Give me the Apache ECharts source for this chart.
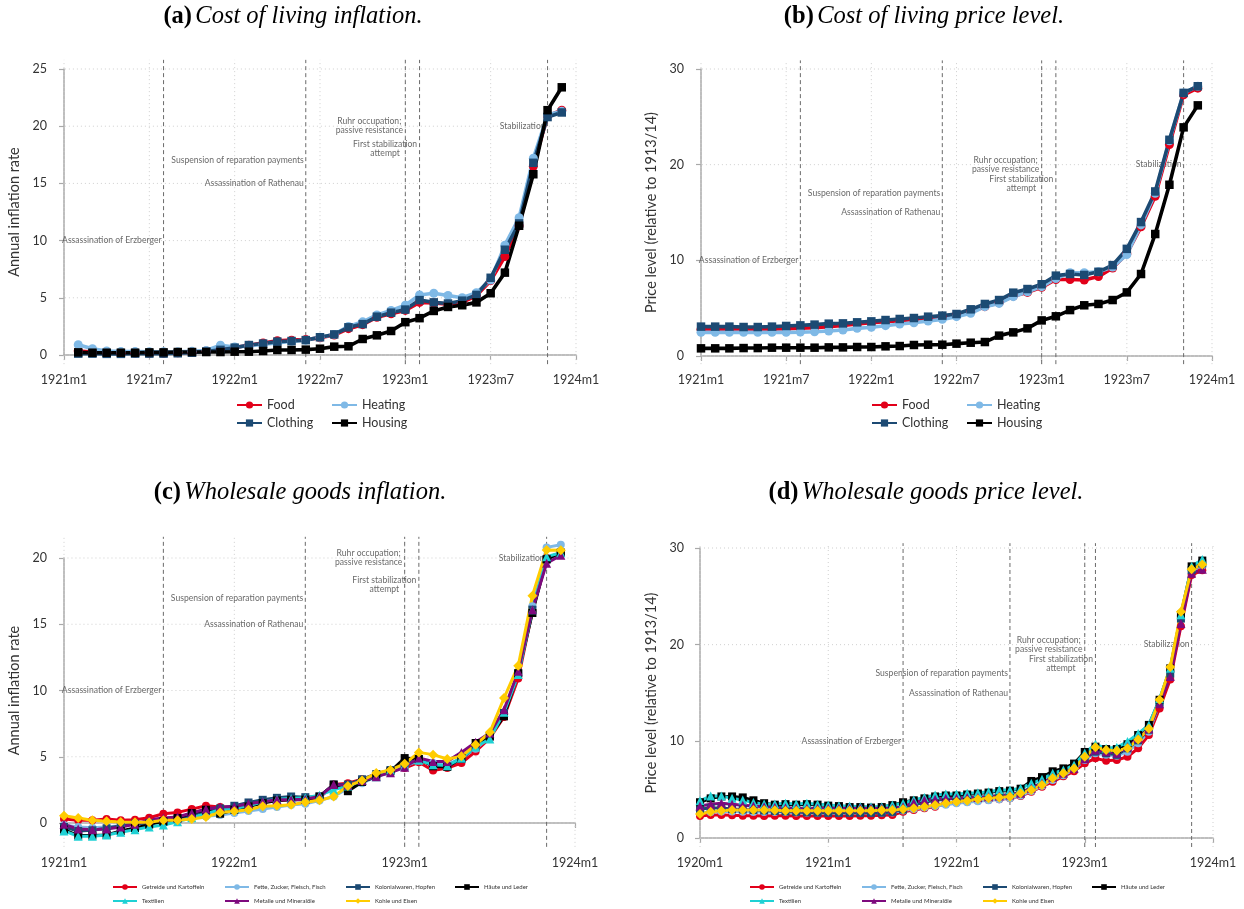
<!DOCTYPE html>
<html><head><meta charset="utf-8">
<script src="https://cdn.jsdelivr.net/npm/echarts@6/dist/echarts.min.js"></script>
<style>html,body{margin:0;padding:0;background:#fff}#c{width:1244px;height:909px}</style>
</head><body><div id="c"></div>
<script>
// ---------------- DATA ----------------
// (a) Cost of living inflation (annual rate), monthly from 1921m2
const colInflStart = '1921m2';
const colInflFood     = [0.35,0.25,0.2,0.15,0.15,0.15,0.15,0.2,0.25,0.35,0.5,0.65,0.85,1.05,1.25,1.3,1.35,1.5,1.75,2.3,2.65,3.3,3.6,3.9,4.6,4.55,4.45,4.6,5.2,6.5,8.6,11.3,16.5,20.9,21.4];
const colInflClothing = [0.12,0.12,0.1,0.1,0.12,0.12,0.12,0.15,0.2,0.3,0.45,0.64,0.87,1.0,1.17,1.22,1.3,1.55,1.8,2.42,2.7,3.35,3.7,3.97,4.8,4.6,4.5,4.75,5.25,6.75,9.2,11.5,16.8,20.8,21.2];
const colInflHeating  = [0.9,0.55,0.35,0.3,0.3,0.28,0.28,0.28,0.32,0.4,0.85,0.7,0.8,0.95,1.05,1.2,1.3,1.55,1.8,2.5,2.9,3.5,3.9,4.35,5.25,5.4,5.2,5.0,5.45,6.55,9.6,12.0,17.2,21.0,21.3];
const colInflHousing  = [0.23,0.2,0.2,0.2,0.2,0.23,0.23,0.26,0.26,0.26,0.26,0.29,0.29,0.35,0.44,0.44,0.47,0.55,0.73,0.76,1.4,1.72,2.1,2.87,3.22,3.85,4.2,4.35,4.6,5.4,7.2,11.3,15.8,21.4,23.4];

// (b) Cost of living price level (relative to 1913/14), monthly from 1921m1
const colLevelStart = '1921m1';
const colLevelFood     = [2.79,2.79,2.79,2.79,2.79,2.79,2.86,2.9,2.95,3.07,3.2,3.34,3.48,3.59,3.69,3.83,3.97,4.11,4.29,4.63,5.16,5.57,6.27,6.65,7.18,8.0,8.0,7.95,8.3,9.2,10.7,13.5,16.7,22.1,27.3,28.0];
const colLevelClothing = [3.07,3.07,3.07,3.03,3.03,3.07,3.14,3.2,3.28,3.38,3.41,3.52,3.62,3.76,3.87,3.97,4.11,4.22,4.39,4.88,5.44,5.85,6.62,7.0,7.5,8.4,8.57,8.47,8.8,9.5,11.2,14.0,17.2,22.6,27.5,28.2];
const colLevelHeating  = [2.47,2.47,2.47,2.47,2.47,2.47,2.47,2.5,2.54,2.61,2.72,2.89,3.0,3.17,3.34,3.48,3.66,3.83,4.11,4.46,5.16,5.5,6.2,6.72,7.25,8.1,8.7,8.7,8.8,9.3,10.6,13.7,17.0,22.5,27.5,28.2];
const colLevelHousing  = [0.8,0.8,0.8,0.83,0.83,0.87,0.87,0.87,0.87,0.9,0.9,0.94,0.94,1.01,1.04,1.15,1.18,1.18,1.29,1.39,1.46,2.13,2.47,2.89,3.72,4.15,4.8,5.3,5.44,5.85,6.65,8.57,12.75,17.9,23.9,26.2];

// (c) Wholesale goods inflation (annual rate), monthly from 1921m1
const whInflStart = '1921m1';
const whInflGetreide  = [0.3,0.2,0.2,0.3,0.2,0.25,0.4,0.7,0.8,1.05,1.3,1.2,1.2,1.38,1.56,1.7,1.76,1.8,1.9,2.9,3.0,3.3,3.65,4.0,4.15,4.58,3.97,4.15,4.53,5.4,6.4,8.0,10.9,16.0,20.0,20.4];
const whInflFette     = [-0.15,-0.3,-0.35,-0.3,-0.2,-0.05,0.0,0.1,0.2,0.35,0.5,0.6,0.75,0.9,1.05,1.2,1.35,1.45,1.7,2.0,2.6,3.0,3.5,3.8,4.28,4.73,4.53,4.4,4.9,5.6,6.5,8.25,11.3,16.35,20.8,21.0];
const whInflKolonial  = [-0.3,-0.6,-0.55,-0.4,-0.2,-0.05,0.0,0.1,0.3,0.6,0.9,1.1,1.3,1.55,1.75,1.9,2.0,1.95,2.0,2.9,2.9,3.3,3.7,4.0,4.5,4.8,4.33,4.28,4.83,5.74,6.54,8.3,11.3,16.1,19.9,20.4];
const whInflHaeute    = [-0.5,-0.95,-0.95,-0.9,-0.6,-0.38,-0.12,0.12,0.38,0.75,1.0,0.7,1.0,1.25,1.5,1.7,1.76,1.76,2.0,2.9,2.4,3.1,3.5,3.9,4.9,4.83,4.28,4.23,4.9,6.04,6.54,8.05,11.3,15.85,19.9,20.4];
const whInflTextilien = [-0.6,-1.0,-1.0,-0.9,-0.7,-0.5,-0.3,-0.15,0.1,0.4,0.7,1.0,1.1,1.3,1.6,1.8,1.85,1.9,2.1,2.5,2.8,3.2,3.5,4.0,4.33,4.73,4.4,4.33,4.9,5.74,6.34,8.35,11.2,16.1,20.1,20.4];
const whInflMetalle   = [-0.1,-0.45,-0.5,-0.45,-0.3,-0.1,0.25,0.38,0.45,0.75,1.05,1.2,1.25,1.45,1.6,1.75,1.75,1.8,2.0,2.9,2.85,3.2,3.5,3.8,4.2,4.9,4.65,4.65,5.33,6.1,6.8,8.55,11.45,16.1,19.6,20.2];
const whInflKohle     = [0.55,0.38,0.2,0.13,0.08,0.05,0.05,0.2,0.2,0.3,0.45,0.8,0.88,1.0,1.26,1.3,1.38,1.56,1.71,2.0,2.8,3.2,3.77,4.0,4.48,5.33,5.16,4.83,5.03,5.9,6.84,9.43,11.87,17.16,20.6,20.58];

// (d) Wholesale goods price level (relative to 1913/14), monthly from 1920m1
const whLevelStart = '1920m1';
const whLevelGetreide  = [2.28,2.38,2.38,2.35,2.3,2.3,2.28,2.3,2.3,2.28,2.28,2.28,2.28,2.28,2.28,2.3,2.3,2.35,2.38,2.72,2.9,3.07,3.24,3.52,3.66,3.76,3.86,3.93,4.0,4.1,4.34,4.79,5.31,5.83,6.38,6.9,7.72,8.24,8.0,8.07,8.41,9.28,10.65,13.4,16.4,21.9,27.2,27.7];
const whLevelFette     = [2.6,2.7,2.75,2.75,2.72,2.7,2.7,2.7,2.68,2.65,2.62,2.6,2.6,2.6,2.6,2.6,2.6,2.62,2.65,2.85,3.0,3.15,3.3,3.45,3.6,3.7,3.8,3.9,4.0,4.1,4.4,4.85,5.4,6.0,6.5,7.1,8.07,8.76,8.6,8.5,8.93,9.8,11.0,13.9,17.2,22.9,27.7,28.2];
const whLevelKolonial  = [3.0,3.1,3.1,3.0,2.95,2.9,2.85,2.8,2.75,2.7,2.65,2.62,2.6,2.6,2.6,2.6,2.6,2.62,2.7,2.95,3.4,3.7,3.9,4.0,4.1,4.15,4.2,4.3,4.4,4.5,4.7,5.2,5.7,6.3,6.8,7.4,8.24,8.93,8.76,8.6,9.28,10.1,11.2,14.0,17.0,22.7,27.7,28.4];
const whLevelHaeute    = [3.7,4.1,4.3,4.3,4.2,3.9,3.6,3.45,3.5,3.45,3.5,3.45,3.35,3.3,3.2,3.2,3.15,3.2,3.4,3.7,3.9,4.1,4.3,4.4,4.4,4.5,4.6,4.7,4.85,4.9,5.1,5.9,6.3,6.9,7.2,7.7,8.9,9.45,9.2,9.2,9.7,10.65,11.7,14.3,17.55,23.1,28.1,28.7];
const whLevelTextilien = [3.86,4.34,4.34,4.1,3.93,3.66,3.52,3.52,3.59,3.52,3.59,3.48,3.41,3.34,3.31,3.24,3.24,3.24,3.41,3.59,3.93,4.2,4.45,4.55,4.55,4.62,4.69,4.79,4.97,4.97,5.14,5.66,6.07,6.69,7.03,7.55,8.8,9.7,9.28,9.38,9.97,10.8,11.7,14.4,17.55,23.1,28.1,28.8];
const whLevelMetalle   = [3.3,3.5,3.6,3.5,3.4,3.3,3.24,3.17,3.14,3.07,3.07,3.07,3.07,3.07,3.07,3.07,3.07,3.07,3.07,3.24,3.66,3.93,4.0,4.1,4.1,4.2,4.2,4.28,4.35,4.45,4.62,5.14,5.66,6.28,6.69,7.2,8.2,9.1,8.93,8.76,9.45,10.3,11.3,13.9,16.7,22.2,27.4,27.8];
const whLevelKohle     = [2.48,2.72,2.83,2.9,2.9,2.9,2.9,2.86,2.83,2.83,2.83,2.83,2.83,2.83,2.83,2.83,2.83,2.86,2.9,2.97,3.07,3.24,3.41,3.59,3.76,3.86,4.0,4.1,4.2,4.28,4.62,4.97,5.48,6.17,6.69,7.2,8.4,9.4,9.1,9.03,9.28,10.2,11.3,14.3,17.7,23.4,27.8,28.3];

// Tick labels
const xTicksHalfYear = ['1921m1','1921m7','1922m1','1922m7','1923m1','1923m7','1924m1'];
const xTicksYearC    = ['1921m1','1922m1','1923m1','1924m1'];
const xTicksYearD    = ['1920m1','1921m1','1922m1','1923m1','1924m1'];
const yTicksA = [0,5,10,15,20,25];
const yTicksB = [0,10,20,30];
const yTicksC = [0,5,10,15,20];
const yTicksD = [0,10,20,30];

// Events (vertical dashed lines) and their annotations
const eventDates = ['1921m8','1922m6','1923m1','1923m2','1923m11'];
const eventTexts = ['Assassination of Erzberger','Suspension of reparation payments','Assassination of Rathenau','Ruhr occupation;\npassive resistance','First stabilization\nattempt','Stabilization'];
const eventTextDates = ['1921m8','1922m6','1922m6','1923m1','1923m2','1923m11'];
const eventTextY = [10,17,15,20,18,20];

// Series names (plot order)
const colNames = ['Food','Heating','Clothing','Housing'];
const whNames = ['Getreide und Kartoffeln','Fette, Zucker, Fleisch, Fisch','Kolonialwaren, Hopfen','Häute und Leder','Textilien','Metalle und Mineralöle','Kohle und Eisen'];

// ---------------- STYLE / LAYOUT ----------------
const RED='#e2001a', LBLUE='#7fb9e6', DBLUE='#1c4a73', BLACK='#000000', CYAN='#1fd1d4', PURPLE='#7e0a7e', YELLOW='#ffcc00';
const FONT = 'Lato', SERIF = 'Liberation Serif';
const AXIS = '#a9a9a9', TXT = '#333333', ANNOT = '#444444';
const styleOf = {
  'Food':{color:RED,symbol:'circle'}, 'Heating':{color:LBLUE,symbol:'circle'},
  'Clothing':{color:DBLUE,symbol:'rect'}, 'Housing':{color:BLACK,symbol:'rect'},
  'Getreide und Kartoffeln':{color:RED,symbol:'circle'}, 'Fette, Zucker, Fleisch, Fisch':{color:LBLUE,symbol:'circle'},
  'Kolonialwaren, Hopfen':{color:DBLUE,symbol:'rect'}, 'Häute und Leder':{color:BLACK,symbol:'rect'},
  'Textilien':{color:CYAN,symbol:'triangle'}, 'Metalle und Mineralöle':{color:PURPLE,symbol:'triangle'},
  'Kohle und Eisen':{color:YELLOW,symbol:'diamond'}
};

function monthNum(label, base){ const p = label.split('m'); return (Number(p[0]) - base) * 12 + Number(p[1]) - 1; }

const panels = [
  { title:['(a)','Cost of living inflation.'], tx:293, ty:17, base:1921,
    grid:{left:64, top:69, width:512, height:286}, xMax:36, xInt:6, xTicks:xTicksHalfYear, yMax:25, yInt:5, yTicks:yTicksA,
    region:[-0.5,36.7,-0.8,25.8], xOff:9, yOff:9, yName:'Annual inflation rate',
    series:[[ 'Food',colInflStart,colInflFood],['Heating',colInflStart,colInflHeating],['Clothing',colInflStart,colInflClothing],['Housing',colInflStart,colInflHousing]],
    big:true, legendCols:[236,331], legendRows:[405,423] },
  { title:['(b)','Cost of living price level.'], tx:924, ty:17, base:1921,
    grid:{left:701, top:69, width:511, height:287}, xMax:36, xInt:6, xTicks:xTicksHalfYear, yMax:30, yInt:10, yTicks:yTicksB,
    region:[-0.5,36.7,-0.85,30.9], xOff:8, yOff:9, yName:'Price level (relative to 1913/14)',
    series:[[ 'Food',colLevelStart,colLevelFood],['Heating',colLevelStart,colLevelHeating],['Clothing',colLevelStart,colLevelClothing],['Housing',colLevelStart,colLevelHousing]],
    big:true, legendCols:[871,966], legendRows:[405,423] },
  { title:['(c)','Wholesale goods inflation.'], tx:300, ty:493, base:1921,
    grid:{left:64, top:558, width:511, height:265}, xMax:36, xInt:12, xTicks:xTicksYearC, yMax:20, yInt:5, yTicks:yTicksC,
    region:[-0.6,36.7,-1.8,21.6], xOff:24, yOff:9, yName:'Annual inflation rate',
    series:[['Getreide und Kartoffeln',whInflStart,whInflGetreide],['Fette, Zucker, Fleisch, Fisch',whInflStart,whInflFette],['Kolonialwaren, Hopfen',whInflStart,whInflKolonial],['Häute und Leder',whInflStart,whInflHaeute],['Textilien',whInflStart,whInflTextilien],['Metalle und Mineralöle',whInflStart,whInflMetalle],['Kohle und Eisen',whInflStart,whInflKohle]],
    big:false, legendCols:[112,224,345,454], legendRows:[887,901] },
  { title:['(d)','Wholesale goods price level.'], tx:926, ty:493, base:1920,
    grid:{left:700, top:548, width:513, height:290}, xMax:48, xInt:12, xTicks:xTicksYearD, yMax:30, yInt:10, yTicks:yTicksD,
    region:[-0.75,48.9,-0.93,30.5], xOff:9, yOff:8, yName:'Price level (relative to 1913/14)',
    series:[['Getreide und Kartoffeln',whLevelStart,whLevelGetreide],['Fette, Zucker, Fleisch, Fisch',whLevelStart,whLevelFette],['Kolonialwaren, Hopfen',whLevelStart,whLevelKolonial],['Häute und Leder',whLevelStart,whLevelHaeute],['Textilien',whLevelStart,whLevelTextilien],['Metalle und Mineralöle',whLevelStart,whLevelMetalle],['Kohle und Eisen',whLevelStart,whLevelKohle]],
    big:false, legendCols:[749,861,982,1091], legendRows:[887,901] }
];

const ANNOT_SIZE = 8.6;
const measureCtx = document.createElement('canvas').getContext('2d');
function textWidth(s, size){ measureCtx.font = size + 'px ' + FONT; return measureCtx.measureText(s).width; }
function annotLabel(text){
  const lines = text.split('\n');
  if (lines.length === 1) return { formatter: text };
  const w = Math.ceil(Math.max.apply(null, lines.map(l => textWidth(l, ANNOT_SIZE))));
  return { formatter: lines.map(l => '{c|' + l + '}').join('\n'),
           rich: { c: { width: w, align: 'center', fontSize: ANNOT_SIZE, fontFamily: FONT, color: ANNOT, lineHeight: 9 } } };
}
function seg(i, pts, style, z){
  return { type:'line', xAxisIndex:i, yAxisIndex:i, data:pts, symbol:'none', silent:true, clip:false, z:z,
           lineStyle:style, emphasis:{disabled:true}, tooltip:{show:false} };
}

const option = { animation:false, backgroundColor:'#ffffff', textStyle:{fontFamily:FONT},
  grid:[], xAxis:[], yAxis:[], series:[], legend:[], graphic:[] };

panels.forEach((p, i) => {
  option.grid.push(Object.assign({containLabel:false}, p.grid));
  const tickVals = p.xTicks.map(t => monthNum(t, p.base));
  option.xAxis.push({ type:'value', gridIndex:i, min:0, max:p.xMax, interval:p.xInt, offset:p.xOff,
    axisLine:{show:true, lineStyle:{color:AXIS, width:1.5}},
    axisTick:{show:true, length:5, lineStyle:{color:AXIS, width:1.2}},
    axisLabel:{show:true, color:TXT, fontFamily:FONT, fontSize:12.5, margin:9, showMinLabel:true, showMaxLabel:true,
      formatter: v => { const k = tickVals.indexOf(Math.round(v)); return k >= 0 ? p.xTicks[k] : ''; } },
    splitLine:{show:false} });
  option.yAxis.push({ type:'value', gridIndex:i, min:0, max:p.yMax, interval:p.yInt, offset:p.yOff,
    name:p.yName, nameLocation:'middle', nameGap:33, nameTextStyle:{color:TXT, fontFamily:FONT, fontSize:14.5},
    axisLine:{show:true, lineStyle:{color:AXIS, width:1.5}},
    axisTick:{show:true, length:5, lineStyle:{color:AXIS, width:1.2}},
    axisLabel:{show:true, color:TXT, fontFamily:FONT, fontSize:12.5, margin:8},
    splitLine:{show:false} });
  const [x0, x1, y0, y1] = p.region;
  const gridStyle = {color:'#cfcfcf', width:1, type:[1,3]};
  tickVals.forEach(x => option.series.push(seg(i, [[x,y0],[x,y1]], gridStyle, 0)));
  p.yTicks.forEach(v => option.series.push(seg(i, [[x0,v],[x1,v]], gridStyle, 0)));
  eventDates.forEach(d => { const x = monthNum(d, p.base); option.series.push(seg(i, [[x,y0],[x,y1]], {color:'#6a6a6a', width:1, type:[4,3]}, 1)); });
  option.series.push({ type:'scatter', xAxisIndex:i, yAxisIndex:i, symbolSize:0, silent:true, z:1, clip:false,
    label:{show:true, position:'left', distance:2, color:ANNOT, fontFamily:FONT, fontSize:ANNOT_SIZE, lineHeight:9},
    data: eventTexts.map((t, k) => ({ value:[monthNum(eventTextDates[k], p.base), eventTextY[k]], label: annotLabel(t) })) });
  p.series.forEach(s => {
    const st = styleOf[s[0]], start = monthNum(s[1], p.base);
    option.series.push({ type:'line', name:s[0], xAxisIndex:i, yAxisIndex:i, clip:false, z:3,
      data: s[2].map((v, k) => [start + k, v]),
      symbol: st.symbol, symbolSize: p.big ? (st.symbol === 'rect' ? 8.5 : 9) : (st.symbol === 'diamond' ? 10 : (st.symbol === 'triangle' ? 9 : 8)),
      showAllSymbol:true, lineStyle:{color:st.color, width: p.big ? 3.6 : 3}, itemStyle:{color:st.color, borderWidth:0},
      emphasis:{disabled:true} });
  });
  // legends: one per item, row-major layout
  const nCols = p.legendCols.length;
  p.series.forEach((s, k) => {
    const col = k % nCols, row = Math.floor(k / nCols);
    const ih = p.big ? 9 : 7, fs = p.big ? 12.5 : 6;
    option.legend.push({ data:[s[0]], left:p.legendCols[col], top:p.legendRows[row] - Math.max(ih, fs * 1.2) / 2,
      padding:0, itemGap:0, itemWidth: p.big ? 25 : 24, itemHeight: ih, selectedMode:false,
      textStyle:{color:TXT, fontFamily:FONT, fontSize:fs, lineHeight: fs * 1.2} });
  });
  option.graphic.push({ type:'text', x:p.tx, y:p.ty, silent:true,
    style:{ text:'{b|' + p.title[0] + '} {i|' + p.title[1] + '}', align:'center', verticalAlign:'middle',
      rich:{ b:{fontFamily:SERIF, fontSize:24.5, fontWeight:'bold', fill:'#000'}, i:{fontFamily:SERIF, fontSize:24.5, fontStyle:'italic', fill:'#000'} } } });
});

const chart = echarts.init(document.getElementById('c'), null, {renderer:'canvas'});
chart.setOption(option);
</script>
</body></html>
